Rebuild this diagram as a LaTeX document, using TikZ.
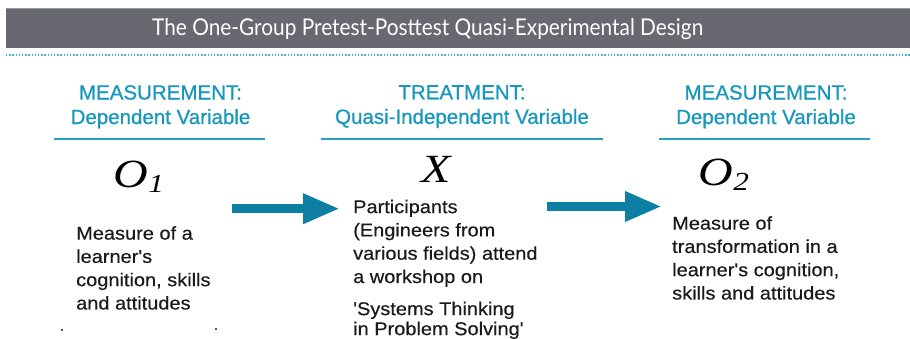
\documentclass[tikz,border=0pt]{standalone}
\usepackage{fontspec}
\usetikzlibrary{arrows.meta}
\setmainfont{Liberation Sans}
\newfontfamily\bodyfont{Liberation Sans}[FakeStretch=1.08,FakeBold=0.4]
\newfontfamily\headfont{Liberation Sans}[FakeBold=0.7]
\newfontfamily\symfont{Liberation Serif}[FakeStretch=1.2]
\newfontfamily\titlefont{Lato}

\definecolor{bargray}{RGB}{104,104,112}
\definecolor{baredge}{RGB}{150,150,156}
\definecolor{dotteal}{RGB}{64,184,204}
\definecolor{headteal}{RGB}{24,151,189}
\definecolor{ruleteal}{RGB}{40,160,196}
\definecolor{arrowteal}{RGB}{12,127,162}
\definecolor{bodyink}{RGB}{26,26,26}

\tikzset{
  heading/.style={anchor=north, inner sep=0pt, align=center, text=headteal,
    font=\headfont\fontsize{20.5}{24.5}\selectfont},
  headrule/.style={draw=ruleteal, line width=2pt},
  symbol/.style={anchor=base west, inner sep=0pt, text=black,
    font=\symfont\itshape\fontsize{40}{40}\selectfont},
  bodytext/.style={anchor=north west, inner sep=0pt, align=left, text=bodyink,
    font=\bodyfont\fontsize{18.5}{23.3}\selectfont},
  bigarrow/.style={draw=arrowteal, line width=9.5pt,
    -{Triangle[length=37pt,width=28pt]}},
}

\newcommand{\subidx}[1]{\kern0.5pt\raisebox{-5pt}{\fontsize{26}{26}\selectfont #1}}

\begin{document}
\begin{tikzpicture}[x=1pt,y=-1pt]
\useasboundingbox (0,0) rectangle (910,338);

% title bar and dotted separator
\fill[bargray] (6,8) rectangle (910,48);
\draw[baredge, line width=1pt] (6,8.5) -- (910,8.5);
\node[anchor=base west, inner sep=0pt, text=white] (title) at (152,35)
  {\resizebox{551pt}{17pt}{\titlefont The One-Group Pretest-Posttest Quasi-Experimental Design}};
\coordinate (dotL) at (6,55);
\coordinate (dotR) at (910,55);
\draw[dotteal, line width=1.6pt, dash pattern=on 1.3pt off 1.9pt] (dotL) -- (dotR);

% column headings with rules
\node[heading] (h1) at (160.5,85) {MEASUREMENT:\\Dependent Variable};
\node[heading] (h2) at (462,85) {TREATMENT:\\Quasi-Independent Variable};
\node[heading] (h3) at (766,85) {MEASUREMENT:\\Dependent Variable};
\coordinate (r1a) at (54,139);  \coordinate (r1b) at (265,139);
\coordinate (r2a) at (321,139); \coordinate (r2b) at (603,139);
\coordinate (r3a) at (659,139); \coordinate (r3b) at (870,139);
\draw[headrule] (r1a) -- (r1b);
\draw[headrule] (r2a) -- (r2b);
\draw[headrule] (r3a) -- (r3b);

% design symbols
\node[symbol] (o1) at (113,187) {O\subidx{1}};
\node[symbol] (x)  at (421,182) {X};
\node[symbol] (o2) at (698,185) {O\subidx{2}};

% descriptions
\node[bodytext] (d1) at (76,226)
  {Measure of a\\learner's\\cognition, skills\\and attitudes};
\node[bodytext] (d2) at (353,199.5)
  {Participants\\(Engineers from\\various fields) attend\\a workshop on};
\node[bodytext, font=\bodyfont\fontsize{18.5}{20}\selectfont] (d2b) at (353,301.5)
  {'Systems Thinking\\in Problem Solving'};
\node[bodytext] (d3) at (672,216)
  {Measure of\\transformation in a\\learner's cognition,\\skills and attitudes};

% flow arrows
\coordinate (a1s) at (232,208.7);
\coordinate (a1e) at (340,208.7);
\coordinate (a2s) at (547,206.5);
\coordinate (a2e) at (662,206.5);
\draw[bigarrow] (a1s) -- (a1e);
\draw[bigarrow] (a2s) -- (a2e);

% small marks below the first column
\fill[bodyink] (62,330) circle (1.2pt);
\fill[bodyink] (216,329) circle (1.2pt);
\end{tikzpicture}
\end{document}
